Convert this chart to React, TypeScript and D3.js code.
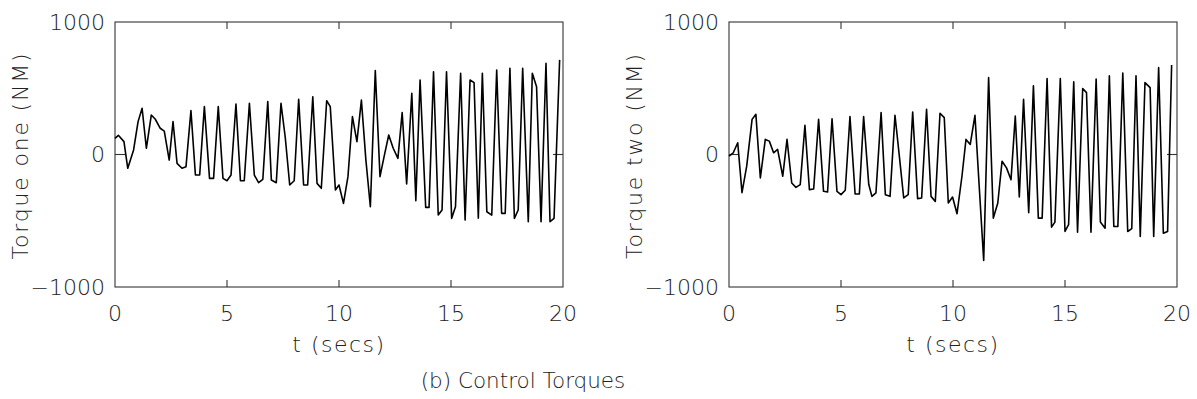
import * as d3 from "d3"

// sample times (s) and torques (NM)
const timeOne = [
  0, 0.15, 0.4, 0.57, 0.83, 1.03, 1.21, 1.4, 1.62, 1.8,
  2.02, 2.2, 2.42, 2.59, 2.77, 2.99, 3.17, 3.39, 3.59, 3.78,
  3.99, 4.22, 4.4, 4.61, 4.82, 5.0, 5.18, 5.4, 5.6, 5.77,
  6.0, 6.22, 6.41, 6.6, 6.82, 6.98, 7.2, 7.41, 7.6, 7.8,
  8.0, 8.2, 8.42, 8.6, 8.83, 9.02, 9.21, 9.45, 9.61, 9.84,
  10.0, 10.2, 10.4, 10.6, 10.8, 11.0, 11.2, 11.4, 11.62, 11.83,
  12.02, 12.22, 12.42, 12.63, 12.82, 13.02, 13.25, 13.43, 13.62, 13.87,
  14.02, 14.22, 14.43, 14.6, 14.8, 15.03, 15.2, 15.43, 15.63, 15.85,
  16.03, 16.22, 16.4, 16.6, 16.82, 17.04, 17.26, 17.42, 17.63, 17.83,
  18.0, 18.2, 18.45, 18.63, 18.82, 19.02, 19.24, 19.42, 19.6, 19.85,
]
const torqueOne = [
  122, 145, 97, -104, 34, 248, 349, 47, 298, 266,
  198, 177, -42, 248, -67, -104, -92, 331, -155, -155,
  361, -180, -180, 361, -180, -198, -155, 381, -198, -198,
  386, -155, -213, -187, 399, -193, -213, 386, 130, -230,
  -198, 417, -230, -230, 436, -218, -255, 406, 361, -268,
  -230, -369, -167, 286, 97, 411, -41, -394, 633, -167,
  -10, 147, 47, -29, 316, -223, 462, -349, 562, -399,
  -399, 625, -457, -419, 625, -482, -394, 613, -495, 562,
  542, -480, 613, -432, -457, 638, -444, -444, 651, -482,
  -419, 651, -507, 613, 512, -507, 689, -507, -482, 714,
]
const timeTwo = [
  0, 0.19, 0.39, 0.58, 0.79, 1.03, 1.2, 1.4, 1.62, 1.8,
  1.99, 2.17, 2.4, 2.59, 2.8, 2.99, 3.18, 3.39, 3.59, 3.78,
  4.0, 4.22, 4.4, 4.6, 4.82, 5.0, 5.19, 5.4, 5.63, 5.82,
  6.01, 6.24, 6.38, 6.56, 6.79, 6.98, 7.19, 7.41, 7.6, 7.8,
  8.0, 8.2, 8.42, 8.6, 8.82, 9.02, 9.21, 9.42, 9.61, 9.79,
  9.98, 10.18, 10.4, 10.58, 10.77, 10.98, 11.17, 11.37, 11.59, 11.8,
  12.0, 12.19, 12.39, 12.59, 12.78, 12.96, 13.15, 13.38, 13.59, 13.81,
  13.98, 14.2, 14.4, 14.55, 14.79, 15.0, 15.16, 15.39, 15.56, 15.79,
  15.96, 16.16, 16.39, 16.58, 16.79, 16.98, 17.18, 17.36, 17.58, 17.8,
  17.98, 18.17, 18.36, 18.57, 18.8, 18.96, 19.18, 19.39, 19.58, 19.76,
]
const torqueTwo = [
  -13, 13, 89, -288, -88, 265, 303, -177, 114, 101,
  13, 38, -164, 114, -215, -248, -227, 220, -265, -260,
  265, -278, -283, 270, -278, -303, -270, 286, -298, -298,
  286, -227, -316, -290, 316, -303, -316, 296, -5, -328,
  -303, 321, -333, -328, 341, -316, -354, 311, 278, -366,
  -321, -447, -164, 114, 76, 296, -240, -800, 581, -480,
  -366, -51, -101, -190, 290, -320, 417, -440, 518, -480,
  -480, 574, -548, -510, 574, -581, -530, 548, -586, 498,
  467, -586, 569, -510, -556, 594, -543, -543, 614, -581,
  -560, 594, -619, 543, 505, -619, 657, -594, -581, 675,
]

const xTicks = [0, 5, 10, 15, 20]
const yTicks = [-1000, 0, 1000]
const yTickLabels = ["\u22121000", "0", "1000"]

const FONT = "'DejaVu Sans', sans-serif"
const INK = "#222"
const PW = 448, TOP = 22, BOTTOM = 287

function Panel({ left, t, v, ylabel }: { left: number; t: number[]; v: number[]; ylabel: string }) {
  const x = d3.scaleLinear().domain([0, 20]).range([left, left + PW])
  const y = d3.scaleLinear().domain([-1000, 1000]).range([BOTTOM, TOP])
  const line = d3.line<number>().x((_, i) => x(t[i])).y(d => y(d))
  const cx = left + PW / 2
  return (
    <g>
      <rect x={left} y={TOP} width={PW} height={BOTTOM - TOP} fill="none" stroke="#333" strokeWidth={1.1} />
      {/* inward ticks */}
      {xTicks.slice(1, -1).map(d => (
        <g key={d} stroke="#333" strokeWidth={1.1}>
          <line x1={x(d)} x2={x(d)} y1={TOP} y2={TOP + 7} />
          <line x1={x(d)} x2={x(d)} y1={BOTTOM} y2={BOTTOM - 7} />
        </g>
      ))}
      <line x1={left} x2={left + 10} y1={y(0)} y2={y(0)} stroke="#333" strokeWidth={1.1} />
      <line x1={left + PW} x2={left + PW - 10} y1={y(0)} y2={y(0)} stroke="#333" strokeWidth={1.1} />
      <path d={line(v) ?? ""} fill="none" stroke="#000" strokeWidth={1.6} strokeLinejoin="round" />
      {/* tick labels */}
      {xTicks.map(d => (
        <text key={d} x={x(d)} y={313} textAnchor="middle" dominantBaseline="central" fontSize={22} fill={INK}>{d}</text>
      ))}
      {yTicks.map((d, i) => (
        <text key={d} x={left - 10} y={y(d)} textAnchor="end" dominantBaseline="central" fontSize={22} fill={INK}>{yTickLabels[i]}</text>
      ))}
      <text x={cx} y={344} textAnchor="middle" dominantBaseline="central" fontSize={22} letterSpacing={1.5} fill={INK}>t (secs)</text>
      <text transform={`translate(${left - 87},${(TOP + BOTTOM) / 2 + 1}) rotate(-90)`} textAnchor="middle" fontSize={22} letterSpacing={1.8} fill={INK}>{ylabel}</text>
    </g>
  )
}

export default function App() {
  return (
    <svg width={1197} height={399} style={{ display: "block", position: "absolute", left: 0, top: 0, background: "#fff" }} fontFamily={FONT} fontWeight={300}>
      <rect width={1197} height={399} fill="#fff" />
      <Panel left={115} t={timeOne} v={torqueOne} ylabel="Torque one (NM)" />
      <Panel left={729} t={timeTwo} v={torqueTwo} ylabel="Torque two (NM)" />
      <text x={523} y={380} textAnchor="middle" dominantBaseline="central" fontSize={21.5} fill={INK}>(b) Control Torques</text>
    </svg>
  )
}
